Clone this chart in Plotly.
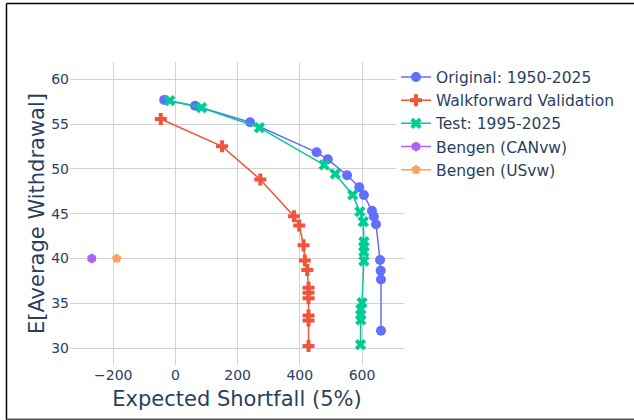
import plotly.graph_objects as go

# Expected shortfall (5%) vs. expected average withdrawal for each strategy
orig_es = [-36, 63, 240, 454, 490, 552, 591, 606, 632, 638, 645, 658, 660, 661, 661]
orig_wd = [57.7, 57.05, 55.2, 51.85, 51.07, 49.29, 47.95, 47.09, 45.33, 44.69, 43.82,
           39.83, 38.64, 37.66, 31.94]

walk_es = [-47, 150, 273, 381, 398, 412, 416, 424, 428, 428, 428, 428, 428, 428]
walk_wd = [55.57, 52.52, 48.82, 44.71, 43.68, 41.48, 39.77, 38.72, 36.73, 36.18, 35.56,
           33.64, 33.08, 30.23]

test_es = [-18, 84, 270, 478, 514, 570, 593, 604, 606, 606, 606, 606, 600, 596, 596, 596, 595]
test_wd = [57.61, 56.83, 54.6, 50.44, 49.43, 47.09, 45.22, 44.11, 41.87, 41.32, 40.76,
           39.72, 35.07, 34.33, 33.69, 33.14, 30.38]

bengen_can_es = [-269]
bengen_can_wd = [40.0]
bengen_us_es = [-189]
bengen_us_wd = [40.0]

fig = go.Figure()

series = [
    ("Original: 1950-2025", orig_es, orig_wd, "#636efa", "circle"),
    ("Walkforward Validation", walk_es, walk_wd, "#EF553B", "cross"),
    ("Test: 1995-2025", test_es, test_wd, "#00cc96", "x"),
    ("Bengen (CANvw)", bengen_can_es, bengen_can_wd, "#ab63fa", "hexagon"),
    ("Bengen (USvw)", bengen_us_es, bengen_us_wd, "#FFA15A", "pentagon"),
]
for name, xs, ys, color, symbol in series:
    fig.add_trace(go.Scatter(
        x=xs, y=ys, name=name, mode="lines+markers",
        line=dict(color=color, width=1.5),
        marker=dict(color=color, symbol=symbol, size=10),
    ))

axis_style = dict(
    showgrid=True, gridcolor="#d3d3d3", gridwidth=1,
    zeroline=True, zerolinecolor="#d3d3d3", zerolinewidth=1,
    showline=False, ticks="", automargin=False,
    tickfont=dict(size=14, color="#2a3f5f"),
)

# Layout in pixels: plot area spans x 70..404, y 62..365 of the 634x420 page
L, T, B = 70, 62, 55
PAPER_W = 634 - L
PLOT_W = 334
PLOT_H = 420 - T - B

fig.update_layout(
    width=634, height=420,
    margin=dict(l=L, r=0, t=T, b=B),
    paper_bgcolor="white", plot_bgcolor="white",
    font=dict(family="DejaVu Sans, Verdana, sans-serif", color="#2a3f5f"),
    xaxis=dict(title=dict(text="Expected Shortfall (5%)", font=dict(size=21), standoff=9),
               domain=[0, PLOT_W / PAPER_W],
               range=[-339, 735], dtick=200, **axis_style),
    yaxis=dict(title=dict(text="E[Average Withdrawal]", font=dict(size=21), standoff=0),
               range=[28.11, 61.93], dtick=5, **axis_style),
    legend=dict(x=(396 - L) / PAPER_W, y=1.005, xanchor="left",
                font=dict(size=15.5, color="#2a3f5f")),
    showlegend=True,
)

# Page frame around the figure
px_x = lambda p: (p - L) / PAPER_W
px_y = lambda p: (420 - B - p) / PLOT_H
fig.add_shape(type="line", xref="paper", yref="paper",
              x0=px_x(6.5), x1=px_x(6.5), y0=px_y(3.5), y1=px_y(420),
              line=dict(color="black", width=1.5))
fig.add_shape(type="line", xref="paper", yref="paper",
              x0=px_x(6.5), x1=px_x(634), y0=px_y(3.5), y1=px_y(3.5),
              line=dict(color="black", width=1.5))
fig.add_shape(type="line", xref="paper", yref="paper",
              x0=px_x(6.5), x1=px_x(634), y0=px_y(419.3), y1=px_y(419.3),
              line=dict(color="#555555", width=1.5))

fig.write_html("out.html")
